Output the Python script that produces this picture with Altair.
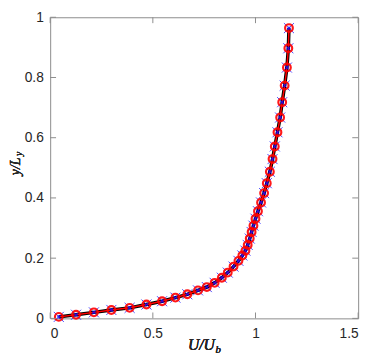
import altair as alt
import pandas as pd

# Profile data
u_vals = [0.042, 0.126, 0.213, 0.298, 0.387, 0.469, 0.545, 0.610, 0.668, 0.720,
          0.763, 0.801, 0.836, 0.865, 0.893, 0.917, 0.936, 0.951, 0.962, 0.972,
          0.981, 0.990, 1.000, 1.012, 1.027, 1.042, 1.055, 1.070, 1.083, 1.094,
          1.107, 1.120, 1.130, 1.142, 1.153, 1.160, 1.163]
y_vals = [0.005, 0.012, 0.020, 0.028, 0.035, 0.046, 0.057, 0.069, 0.080, 0.093,
          0.104, 0.118, 0.135, 0.152, 0.172, 0.191, 0.209, 0.225, 0.244, 0.265,
          0.287, 0.308, 0.331, 0.356, 0.385, 0.416, 0.449, 0.487, 0.529, 0.571,
          0.618, 0.667, 0.718, 0.773, 0.833, 0.897, 0.964]
x_ticks = [0, 0.5, 1, 1.5]
y_ticks = [0, 0.2, 0.4, 0.6, 0.8, 1]

W, H = 314, 307
TICK = 6
AX = "#8c8c8c"

df = pd.DataFrame({"u": u_vals, "y": y_vals, "i": list(range(len(u_vals)))})
xt = pd.DataFrame({"t": x_ticks})
yt = pd.DataFrame({"t": y_ticks})

xs = alt.Scale(domain=[0, 1.5], nice=False, zero=False)
ys = alt.Scale(domain=[0, 1], nice=False, zero=False)

X = alt.X("u:Q", scale=xs, axis=alt.Axis(values=x_ticks, format="~g", ticks=False, domain=False,
                                         grid=False, title=None, labelPadding=8))
Y = alt.Y("y:Q", scale=ys, axis=alt.Axis(values=y_ticks, format="~g", ticks=False, domain=False,
                                         grid=False, title=None, labelPadding=7))

base = alt.Chart(df).encode(x=X, y=Y, order="i:Q")

black = base.mark_line(color="black", strokeWidth=3.5)
red_line = base.mark_line(color="#ff0000", strokeWidth=1.5)
blue_x = base.mark_point(shape="M-1,-1L1,1M1,-1L-1,1", size=105, color="#1a1aff",
                         strokeWidth=0.8, filled=False, opacity=1)
red_o = base.mark_point(shape="circle", size=62, color="#ff0000", strokeWidth=2.2,
                        filled=False, opacity=0.9)
blue_c = base.mark_point(shape="circle", size=6, color="#0000ff", strokeWidth=0.7,
                         filled=False, opacity=1)

# inward ticks on all four sides
tb = alt.Chart(xt).mark_rule(color=AX, strokeWidth=1).encode(
    x=alt.X("t:Q", scale=xs), y=alt.value(H), y2=alt.value(H - TICK))
tt = alt.Chart(xt).mark_rule(color=AX, strokeWidth=1).encode(
    x=alt.X("t:Q", scale=xs), y=alt.value(0), y2=alt.value(TICK))
tl = alt.Chart(yt).mark_rule(color=AX, strokeWidth=1).encode(
    y=alt.Y("t:Q", scale=ys), x=alt.value(0), x2=alt.value(TICK))
tr = alt.Chart(yt).mark_rule(color=AX, strokeWidth=1).encode(
    y=alt.Y("t:Q", scale=ys), x=alt.value(W), x2=alt.value(W - TICK))

FONT = "Liberation Serif"
xtitle1 = alt.Chart(xt).mark_text(text="U/U", font=FONT, fontStyle="italic", fontSize=16,
                                  align="right", baseline="alphabetic", color="#262626").encode(
    x=alt.value(168), y=alt.value(339))
xtitle2 = alt.Chart(xt).mark_text(text="b", font=FONT, fontStyle="italic", fontSize=11,
                                  align="left", baseline="alphabetic", color="#262626").encode(
    x=alt.value(168.5), y=alt.value(342))
ytitle1 = alt.Chart(xt).mark_text(text="y/L", font=FONT, fontStyle="italic", fontSize=14,
                                  align="left", baseline="alphabetic", angle=270, color="#262626").encode(
    x=alt.value(-31), y=alt.value(161))
ytitle2 = alt.Chart(xt).mark_text(text="y", font=FONT, fontStyle="italic", fontSize=10,
                                  align="left", baseline="alphabetic", angle=270, color="#262626").encode(
    x=alt.value(-28.5), y=alt.value(141.5))

chart = alt.layer(
    black, red_line, blue_x, red_o, blue_c, tb, tt, tl, tr,
    xtitle1, xtitle2, ytitle1, ytitle2
).properties(
    width=W, height=H,
    autosize=alt.AutoSizeParams(type="none"),
    padding={"left": 43, "top": 6, "right": 8, "bottom": 40},
).configure_view(
    stroke=AX, strokeWidth=1
).configure_axis(
    labelFont="Liberation Sans", labelFontSize=14, labelColor="#262626"
)

chart.save("out.html", embed_options={"renderer": "svg", "actions": False})
